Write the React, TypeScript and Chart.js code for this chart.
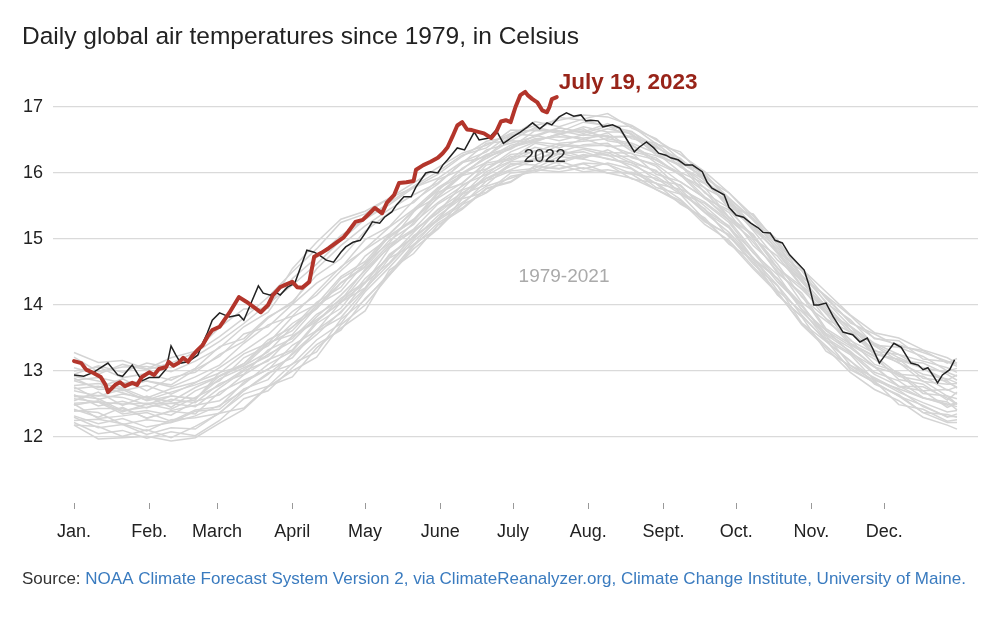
import React, { useEffect, useRef } from "react";
import { Chart, registerables } from "chart.js";

Chart.register(...registerables);

const TITLE = "Daily global air temperatures since 1979, in Celsius";
const SOURCE_LEAD = "Source: ";
const SOURCE_TEXT =
  "NOAA Climate Forecast System Version 2, via ClimateReanalyzer.org, Climate Change Institute, University of Maine.";
const LABEL_2023 = "July 19, 2023";
const LABEL_2022 = "2022";
const LABEL_GREY = "1979-2021";

const MONTH_LABELS = ["Jan.", "Feb.", "March", "April", "May", "June", "July", "Aug.", "Sept.", "Oct.", "Nov.", "Dec."];
const MONTH_START_DAYS = [1, 32, 60, 91, 121, 152, 182, 213, 244, 274, 305, 335];
const Y_TICKS = [12, 13, 14, 15, 16, 17];

// 2023 (through July 19)
const DAYS_2023 = [1, 4, 6, 9, 12, 14, 15, 18, 20, 22, 25, 27, 29, 32, 34, 36, 39, 40, 42, 44, 46, 48, 50, 52, 54, 56, 58, 61, 65, 67, 69, 72, 75, 78, 81, 83, 86, 89, 91, 93, 95, 98, 100, 103, 106, 109, 112, 114, 117, 120, 122, 125, 128, 130, 133, 135, 138, 141, 142, 145, 148, 151, 153, 155, 157, 159, 161, 163, 165, 168, 170, 173, 175, 177, 179, 181, 183, 185, 187, 188, 190, 192, 194, 196, 197, 198, 200];
const TEMP_2023 = [13.15, 13.12, 13.02, 12.97, 12.91, 12.79, 12.68, 12.79, 12.83, 12.77, 12.82, 12.79, 12.91, 12.98, 12.94, 13.03, 13.06, 13.14, 13.08, 13.12, 13.2, 13.14, 13.24, 13.32, 13.39, 13.52, 13.62, 13.67, 13.88, 14.0, 14.12, 14.05, 13.97, 13.89, 14.0, 14.15, 14.27, 14.32, 14.35, 14.27, 14.26, 14.35, 14.73, 14.79, 14.86, 14.94, 15.02, 15.11, 15.26, 15.29, 15.36, 15.47, 15.39, 15.55, 15.67, 15.85, 15.86, 15.88, 16.05, 16.12, 16.17, 16.23, 16.3, 16.39, 16.55, 16.72, 16.77, 16.66, 16.65, 16.62, 16.6, 16.53, 16.62, 16.78, 16.8, 16.77, 17.0, 17.18, 17.23, 17.18, 17.12, 17.07, 16.95, 16.92, 17.0, 17.12, 17.15];

// 2022
const DAYS_2022 = [1, 5, 9, 15, 19, 21, 25, 29, 32, 36, 39, 41, 43, 45, 48, 52, 54, 56, 58, 61, 63, 65, 69, 71, 74, 77, 79, 82, 84, 86, 89, 92, 94, 97, 100, 102, 105, 108, 111, 113, 116, 119, 122, 124, 127, 129, 132, 134, 137, 140, 142, 146, 148, 151, 153, 155, 159, 162, 166, 168, 172, 175, 178, 182, 185, 188, 190, 193, 196, 198, 201, 204, 207, 210, 212, 214, 217, 219, 223, 226, 229, 232, 234, 237, 240, 242, 245, 247, 250, 253, 256, 260, 262, 264, 269, 271, 274, 277, 280, 283, 285, 288, 290, 293, 296, 302, 304, 306, 308, 311, 314, 318, 322, 325, 328, 330, 333, 336, 339, 342, 346, 349, 351, 353, 355, 357, 359, 362, 364];
const TEMP_2022 = [12.94, 12.92, 12.98, 13.12, 12.94, 12.92, 13.09, 12.85, 12.9, 12.9, 13.03, 13.38, 13.24, 13.12, 13.14, 13.24, 13.42, 13.58, 13.77, 13.88, 13.85, 13.82, 13.85, 13.77, 14.03, 14.29, 14.18, 14.15, 14.2, 14.15, 14.27, 14.33, 14.53, 14.83, 14.8, 14.76, 14.68, 14.65, 14.8, 14.88, 14.95, 14.98, 15.14, 15.26, 15.24, 15.33, 15.41, 15.52, 15.64, 15.64, 15.79, 16.0, 16.02, 16.0, 16.12, 16.2, 16.38, 16.35, 16.62, 16.5, 16.53, 16.65, 16.45, 16.55, 16.62, 16.7, 16.76, 16.67, 16.76, 16.73, 16.85, 16.91, 16.86, 16.88, 16.79, 16.8, 16.79, 16.7, 16.73, 16.68, 16.5, 16.32, 16.39, 16.47, 16.38, 16.3, 16.27, 16.23, 16.2, 16.12, 16.12, 16.02, 15.86, 15.77, 15.67, 15.48, 15.36, 15.33, 15.24, 15.17, 15.1, 15.09, 14.98, 14.94, 14.76, 14.53, 14.3, 14.0, 14.0, 14.03, 13.82, 13.59, 13.55, 13.44, 13.5, 13.36, 13.12, 13.27, 13.42, 13.36, 13.12, 13.09, 13.02, 13.05, 12.94, 12.82, 12.94, 13.02, 13.17];

// 1979-2021 (sampled every ten days)
const GREY_DAYS = [1, 11, 21, 31, 41, 51, 61, 71, 81, 91, 101, 111, 121, 131, 141, 151, 161, 171, 181, 191, 201, 211, 221, 231, 241, 251, 261, 271, 281, 291, 301, 311, 321, 331, 341, 351, 361, 365];
const grey01 = [12.18, 12.16, 12.01, 12.11, 11.99, 12.16, 12.36, 12.44, 12.77, 12.91, 13.35, 13.65, 13.91, 14.53, 14.78, 15.21, 15.45, 15.76, 15.86, 16.1, 16.06, 16.14, 16.0, 16.01, 15.84, 15.53, 15.32, 14.92, 14.68, 14.16, 13.82, 13.3, 13.08, 12.85, 12.49, 12.42, 12.24, 12.26];
const grey02 = [12.3, 12.14, 12.19, 12.04, 12.14, 12.12, 12.37, 12.65, 12.77, 13.11, 13.29, 13.78, 14.08, 14.48, 14.92, 15.16, 15.61, 15.71, 16.0, 16.04, 16.18, 16.06, 16.15, 16.06, 15.78, 15.68, 15.29, 15.05, 14.62, 14.29, 13.73, 13.45, 13.16, 12.8, 12.64, 12.37, 12.34, 12.3];
const grey03 = [12.25, 12.27, 12.2, 12.09, 12.26, 12.29, 12.36, 12.7, 12.97, 13.1, 13.47, 13.72, 14.2, 14.57, 14.97, 15.28, 15.52, 15.88, 16.03, 16.07, 16.25, 16.21, 16.13, 15.99, 15.92, 15.68, 15.46, 15.03, 14.72, 14.22, 13.9, 13.54, 13.09, 12.9, 12.71, 12.46, 12.31, 12.31];
const grey04 = [12.4, 12.37, 12.19, 12.26, 12.22, 12.39, 12.42, 12.73, 12.87, 13.27, 13.6, 13.81, 14.23, 14.71, 14.91, 15.31, 15.68, 15.82, 16.13, 16.19, 16.15, 16.26, 16.28, 16.07, 15.84, 15.75, 15.41, 15.17, 14.69, 14.4, 13.93, 13.47, 13.25, 12.86, 12.73, 12.59, 12.5, 12.46];
const grey05 = [12.5, 12.28, 12.32, 12.37, 12.24, 12.41, 12.46, 12.83, 13.03, 13.2, 13.62, 13.88, 14.34, 14.64, 15.05, 15.28, 15.74, 15.88, 16.14, 16.12, 16.29, 16.32, 16.21, 16.16, 15.89, 15.82, 15.44, 15.2, 14.71, 14.4, 14.01, 13.5, 13.27, 12.95, 12.77, 12.59, 12.53, 12.41];
const grey06 = [12.39, 12.43, 12.43, 12.29, 12.39, 12.35, 12.68, 12.86, 13.02, 13.39, 13.61, 14.04, 14.26, 14.77, 15.03, 15.44, 15.63, 15.96, 16.17, 16.19, 16.35, 16.24, 16.31, 16.15, 16.04, 15.69, 15.54, 15.25, 14.79, 14.46, 13.93, 13.62, 13.28, 13.06, 12.76, 12.7, 12.45, 12.51];
const grey07 = [12.58, 12.53, 12.35, 12.4, 12.33, 12.54, 12.64, 12.94, 13.17, 13.32, 13.75, 14.05, 14.33, 14.86, 15.14, 15.39, 15.67, 16.02, 16.18, 16.34, 16.28, 16.36, 16.26, 16.25, 16.1, 15.76, 15.56, 15.28, 14.83, 14.39, 13.99, 13.57, 13.35, 13.07, 12.77, 12.76, 12.59, 12.49];
const grey08 = [12.63, 12.58, 12.4, 12.45, 12.51, 12.46, 12.74, 13.0, 13.15, 13.53, 13.78, 14.03, 14.48, 14.89, 15.12, 15.4, 15.82, 15.98, 16.25, 16.25, 16.42, 16.38, 16.31, 16.3, 15.98, 15.87, 15.62, 15.33, 14.95, 14.51, 14.14, 13.61, 13.38, 13.06, 12.95, 12.66, 12.62, 12.5];
const grey09 = [12.64, 12.47, 12.54, 12.44, 12.57, 12.52, 12.81, 12.95, 13.32, 13.49, 13.86, 14.07, 14.54, 14.92, 15.15, 15.53, 15.75, 16.12, 16.2, 16.39, 16.32, 16.43, 16.45, 16.23, 16.13, 15.86, 15.63, 15.29, 14.99, 14.48, 14.18, 13.64, 13.41, 13.22, 12.87, 12.8, 12.56, 12.68];
const grey10 = [12.78, 12.81, 12.75, 12.85, 12.79, 13.02, 13.22, 13.56, 13.67, 14.01, 14.33, 14.56, 14.99, 15.19, 15.58, 15.83, 16.16, 16.25, 16.56, 16.67, 16.6, 16.67, 16.49, 16.43, 16.19, 16.0, 15.64, 15.4, 14.9, 14.57, 14.04, 13.76, 13.48, 13.1, 12.98, 12.7, 12.72, 12.65];
const grey11 = [12.76, 12.57, 12.65, 12.59, 12.54, 12.75, 12.92, 13.08, 13.29, 13.67, 13.94, 14.33, 14.57, 14.98, 15.22, 15.64, 15.96, 16.06, 16.32, 16.47, 16.43, 16.41, 16.42, 16.29, 16.2, 15.97, 15.61, 15.44, 15.04, 14.55, 14.24, 13.87, 13.42, 13.23, 12.95, 12.92, 12.71, 12.76];
const grey12 = [12.73, 12.77, 12.67, 12.56, 12.68, 12.79, 12.92, 13.11, 13.47, 13.66, 14.04, 14.27, 14.74, 15.02, 15.29, 15.71, 15.84, 16.17, 16.38, 16.52, 16.55, 16.53, 16.57, 16.33, 16.23, 15.96, 15.78, 15.33, 15.07, 14.56, 14.28, 13.91, 13.46, 13.27, 13.13, 12.84, 12.8, 12.81];
const grey13 = [12.89, 12.72, 12.74, 12.59, 12.73, 12.83, 12.97, 13.26, 13.42, 13.82, 14.01, 14.43, 14.66, 15.07, 15.43, 15.64, 15.99, 16.16, 16.39, 16.48, 16.59, 16.5, 16.61, 16.36, 16.26, 16.12, 15.7, 15.47, 15.01, 14.74, 14.28, 13.79, 13.59, 13.25, 13.18, 12.89, 12.85, 12.74];
const grey14 = [12.61, 12.63, 12.6, 12.49, 12.62, 12.58, 12.93, 13.11, 13.43, 13.55, 13.97, 14.34, 14.59, 15.05, 15.27, 15.68, 15.98, 16.25, 16.36, 16.57, 16.49, 16.58, 16.55, 16.56, 16.42, 16.09, 15.9, 15.46, 15.38, 14.92, 14.42, 14.13, 13.73, 13.56, 13.37, 13.31, 13.12, 13.19];
const grey15 = [12.86, 12.9, 12.82, 12.85, 12.76, 12.91, 13.09, 13.42, 13.7, 13.83, 14.2, 14.58, 14.84, 15.08, 15.43, 15.73, 16.07, 16.28, 16.38, 16.64, 16.64, 16.57, 16.67, 16.59, 16.27, 16.13, 15.77, 15.58, 15.15, 14.81, 14.38, 13.87, 13.68, 13.38, 13.15, 13.12, 12.95, 12.86];
const grey16 = [13.28, 13.13, 13.16, 13.03, 13.2, 13.3, 13.66, 13.94, 13.95, 14.55, 14.95, 15.3, 15.42, 15.62, 15.78, 15.92, 16.17, 16.32, 16.59, 16.57, 16.69, 16.6, 16.71, 16.63, 16.31, 16.17, 15.92, 15.47, 15.18, 14.8, 14.29, 14.0, 13.62, 13.27, 13.17, 13.04, 12.82, 12.76];
const grey17 = [13.0, 13.06, 12.9, 12.96, 12.86, 13.04, 13.37, 13.49, 13.82, 14.02, 14.55, 14.9, 15.2, 15.45, 15.67, 15.85, 16.15, 16.45, 16.49, 16.69, 16.62, 16.77, 16.72, 16.52, 16.45, 16.16, 16.0, 15.55, 15.31, 14.81, 14.52, 14.03, 13.78, 13.39, 13.36, 13.22, 13.0, 13.04];
const grey18 = [13.21, 12.99, 13.06, 13.07, 12.99, 13.15, 13.35, 13.67, 13.89, 14.4, 14.72, 15.05, 15.3, 15.55, 15.8, 16.02, 16.27, 16.38, 16.65, 16.64, 16.84, 16.8, 16.71, 16.71, 16.44, 16.32, 15.92, 15.7, 15.31, 14.99, 14.44, 14.14, 13.84, 13.49, 13.46, 13.18, 13.14, 13.07];
const grey19 = [12.18, 11.97, 11.99, 12.01, 11.94, 11.99, 12.21, 12.42, 12.76, 13.0, 13.21, 13.7, 14.0, 14.45, 14.89, 15.24, 15.47, 15.77, 15.87, 16.11, 16.07, 16.15, 16.13, 15.91, 15.85, 15.6, 15.26, 15.07, 14.65, 14.15, 13.83, 13.47, 13.02, 12.83, 12.62, 12.37, 12.22, 12.22];
const grey20 = [12.51, 12.53, 12.5, 12.51, 12.51, 12.56, 12.98, 13.08, 13.41, 13.61, 14.0, 14.21, 14.64, 14.94, 15.41, 15.76, 15.96, 16.26, 16.49, 16.47, 16.6, 16.64, 16.54, 16.55, 16.31, 16.01, 15.84, 15.55, 15.13, 14.68, 14.38, 13.91, 13.67, 13.3, 13.25, 13.04, 12.86, 12.94];
const grey21 = [13.05, 12.95, 13.1, 13.02, 13.12, 13.28, 13.52, 13.8, 14.12, 14.5, 14.85, 15.25, 15.38, 15.62, 15.85, 16.08, 16.3, 16.42, 16.6, 16.72, 16.8, 16.88, 16.85, 16.72, 16.5, 16.28, 16.02, 15.7, 15.35, 14.95, 14.55, 14.1, 13.75, 13.5, 13.4, 13.28, 13.15, 13.1];
const grey22 = [12.95, 13.08, 12.98, 13.12, 13.05, 13.22, 13.45, 13.72, 14.02, 14.3, 14.62, 14.98, 15.3, 15.52, 15.78, 15.98, 16.25, 16.48, 16.55, 16.78, 16.7, 16.82, 16.9, 16.68, 16.52, 16.2, 15.98, 15.62, 15.28, 14.88, 14.45, 14.05, 13.68, 13.42, 13.25, 13.15, 13.05, 12.98];
const grey23 = [12.55, 12.68, 12.48, 12.62, 12.45, 12.7, 12.85, 13.2, 13.38, 13.72, 13.95, 14.4, 14.62, 15.05, 15.3, 15.62, 15.85, 16.15, 16.22, 16.45, 16.38, 16.52, 16.4, 16.42, 16.15, 15.98, 15.72, 15.32, 15.05, 14.62, 14.12, 13.8, 13.4, 13.18, 12.92, 12.85, 12.62, 12.58];
const grey24 = [12.42, 12.3, 12.45, 12.28, 12.4, 12.48, 12.55, 12.8, 13.1, 13.3, 13.72, 13.95, 14.4, 14.72, 15.1, 15.45, 15.7, 15.92, 16.1, 16.22, 16.3, 16.22, 16.35, 16.18, 16.02, 15.8, 15.5, 15.18, 14.8, 14.35, 13.98, 13.55, 13.3, 12.98, 12.85, 12.6, 12.48, 12.52];
const grey25 = [12.85, 12.75, 12.88, 12.7, 12.9, 12.98, 13.25, 13.45, 13.8, 14.05, 14.45, 14.7, 15.12, 15.4, 15.55, 15.9, 16.05, 16.35, 16.45, 16.55, 16.68, 16.62, 16.75, 16.58, 16.38, 16.22, 15.88, 15.6, 15.2, 14.85, 14.4, 13.98, 13.62, 13.4, 13.2, 13.05, 12.98, 12.92];
const grey26 = [12.22, 12.05, 12.1, 11.98, 12.08, 12.02, 12.25, 12.58, 12.7, 13.05, 13.4, 13.62, 14.1, 14.45, 14.85, 15.15, 15.52, 15.7, 15.95, 16.02, 16.12, 16.02, 16.05, 15.98, 15.75, 15.58, 15.22, 14.98, 14.58, 14.2, 13.7, 13.35, 12.98, 12.72, 12.55, 12.3, 12.18, 12.12];
const grey27 = [12.48, 12.55, 12.38, 12.5, 12.42, 12.6, 12.78, 13.02, 13.25, 13.45, 13.82, 14.15, 14.52, 14.88, 15.25, 15.55, 15.8, 16.05, 16.28, 16.32, 16.45, 16.48, 16.52, 16.45, 16.3, 16.1, 15.85, 15.52, 15.2, 14.78, 14.35, 13.95, 13.58, 13.32, 13.12, 12.95, 12.88, 12.82];
const grey28 = [12.7, 12.62, 12.72, 12.55, 12.62, 12.58, 12.88, 13.05, 13.22, 13.52, 13.75, 14.1, 14.35, 14.75, 15.02, 15.3, 15.55, 15.8, 15.92, 16.05, 16.02, 16.08, 16.0, 15.92, 15.75, 15.55, 15.28, 14.95, 14.55, 14.18, 13.72, 13.38, 13.05, 12.82, 12.62, 12.48, 12.3, 12.35];
const grey29 = [12.92, 12.85, 12.7, 12.78, 12.65, 12.82, 13.05, 13.3, 13.55, 13.9, 14.15, 14.52, 14.85, 15.18, 15.45, 15.78, 16.0, 16.22, 16.42, 16.5, 16.58, 16.7, 16.62, 16.62, 16.4, 16.15, 15.95, 15.62, 15.3, 14.92, 14.55, 14.2, 13.85, 13.58, 13.5, 13.32, 13.2, 13.12];
const grey30 = [12.32, 12.2, 12.28, 12.15, 12.22, 12.32, 12.48, 12.7, 12.95, 13.25, 13.55, 13.9, 14.25, 14.62, 15.0, 15.35, 15.62, 15.92, 16.05, 16.2, 16.18, 16.28, 16.22, 16.12, 15.95, 15.72, 15.4, 15.1, 14.7, 14.3, 13.85, 13.45, 13.15, 12.88, 12.68, 12.52, 12.38, 12.4];
const GREY_SERIES = [grey01, grey02, grey03, grey04, grey05, grey06, grey07, grey08, grey09, grey10, grey11, grey12, grey13, grey14, grey15, grey16, grey17, grey18, grey19, grey20, grey21, grey22, grey23, grey24, grey25, grey26, grey27, grey28, grey29, grey30];

const FONT = '"Liberation Sans", Arial, Helvetica, sans-serif';
const RED = "#b3352b";
const RED_TEXT = "#982419";

const textPlugin = {
  id: "textPlugin",
  afterDraw(chart: any) {
    const ctx = chart.ctx as CanvasRenderingContext2D;
    const xs = chart.scales.x;
    const ys = chart.scales.y;
    ctx.save();
    ctx.textBaseline = "alphabetic";

    ctx.textAlign = "left";
    ctx.fillStyle = "#222222";
    ctx.font = `24.5px ${FONT}`;
    ctx.fillText(TITLE, 22, 44);

    ctx.font = `17px ${FONT}`;
    ctx.fillStyle = "#333333";
    ctx.fillText(SOURCE_LEAD, 22, 584);
    const w = ctx.measureText(SOURCE_LEAD).width;
    ctx.fillStyle = "#3a7bbf";
    ctx.fillText(SOURCE_TEXT, 22 + w, 584);

    ctx.font = `bold 22.5px ${FONT}`;
    ctx.fillStyle = RED_TEXT;
    ctx.textAlign = "left";
    ctx.fillText(LABEL_2023, xs.getPixelForValue(200) + 2, ys.getPixelForValue(17.28));

    ctx.font = `19px ${FONT}`;
    ctx.fillStyle = "#2a2a2a";
    ctx.textAlign = "center";
    ctx.fillText(LABEL_2022, xs.getPixelForValue(195), ys.getPixelForValue(16.17));

    ctx.fillStyle = "#aaaaaa";
    ctx.fillText(LABEL_GREY, xs.getPixelForValue(203), ys.getPixelForValue(14.35));
    ctx.restore();
  },
};

export default function App() {
  const ref = useRef<HTMLCanvasElement>(null);

  useEffect(() => {
    document.body.style.margin = "0";
    const canvas = ref.current;
    if (!canvas) return;
    const toPts = (days: number[], vals: number[]) => days.map((d, i) => ({ x: d, y: vals[i] }));

    const greyDatasets = GREY_SERIES.map((vals) => ({
      data: toPts(GREY_DAYS, vals),
      borderColor: "#d4d4d4",
      borderWidth: 1.5,
      pointRadius: 0,
      tension: 0,
      order: 3,
    }));

    const chart = new Chart(canvas, {
      type: "line",
      data: {
        datasets: [
          {
            data: toPts(DAYS_2023, TEMP_2023),
            borderColor: RED,
            borderWidth: 4,
            pointRadius: 0,
            tension: 0,
            borderJoinStyle: "round",
            borderCapStyle: "round",
            order: 1,
          },
          {
            data: toPts(DAYS_2022, TEMP_2022),
            borderColor: "#222222",
            borderWidth: 1.5,
            pointRadius: 0,
            tension: 0,
            order: 2,
          },
          ...greyDatasets,
        ] as any,
      },
      options: {
        responsive: false,
        animation: false,
        events: [],
        layout: { padding: { left: 0, right: 20, top: 67.4, bottom: 0 } },
        plugins: { legend: { display: false }, tooltip: { enabled: false } },
        scales: {
          x: {
            type: "linear",
            min: -7.66,
            max: 373.66,
            afterBuildTicks: (s: any) => {
              s.ticks = MONTH_START_DAYS.map((v) => ({ value: v }));
            },
            afterFit: (s: any) => {
              s.height = 117;
            },
            ticks: {
              autoSkip: false,
              maxRotation: 0,
              minRotation: 0,
              padding: 12,
              color: "#222222",
              font: { family: FONT, size: 18 },
              callback: (v: any) => MONTH_LABELS[MONTH_START_DAYS.indexOf(Number(v))] ?? "",
            },
            grid: { drawOnChartArea: false, drawTicks: true, tickLength: 6, color: "#999999", lineWidth: 1 },
            border: { display: false },
          },
          y: {
            type: "linear",
            min: 11,
            max: 17.6,
            afterBuildTicks: (s: any) => {
              s.ticks = Y_TICKS.map((v) => ({ value: v }));
            },
            afterFit: (s: any) => {
              s.width = 53;
            },
            ticks: {
              padding: 10,
              color: "#222222",
              font: { family: FONT, size: 18 },
            },
            grid: { drawTicks: false, color: "#dadada", lineWidth: 1.2 },
            border: { display: false },
          },
        },
      } as any,
      plugins: [textPlugin],
    });
    return () => chart.destroy();
  }, []);

  return (
    <canvas
      ref={ref}
      width={998}
      height={620}
      style={{ display: "block", width: 998, height: 620 }}
    />
  );
}
